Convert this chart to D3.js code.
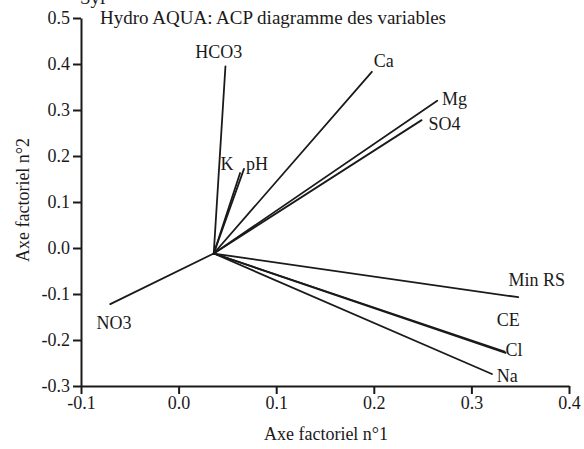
<!DOCTYPE html>
<html>
<head>
<meta charset="utf-8">
<script src="https://cdn.jsdelivr.net/npm/d3@7"></script>
<style>
  html, body { margin: 0; padding: 0; background: #fff; }
  svg { display: block; }
</style>
</head>
<body>
<div id="chart"></div>
<script>
// ---- data ----
const variables = ["HCO3", "Ca", "Mg", "SO4", "K", "pH", "Min RS", "CE", "Cl", "Na", "NO3"];
const endX = [0.048, 0.198, 0.265, 0.249, 0.063, 0.067, 0.348, 0.334, 0.335, 0.321, -0.070];
const endY = [0.395, 0.383, 0.320, 0.278, 0.163, 0.172, -0.107, -0.225, -0.228, -0.274, -0.122];
const labelX = [0.017, 0.2, 0.27, 0.256, 0.043, 0.069, 0.338, 0.326, 0.335, 0.326, -0.084];
const labelY = [0.412, 0.394, 0.311, 0.257, 0.169, 0.169, -0.083, -0.170, -0.235, -0.292, -0.176];
const originX = 0.036, originY = -0.012;
const xTicks = [-0.1, 0.0, 0.1, 0.2, 0.3, 0.4];
const yTicks = [-0.3, -0.2, -0.1, 0.0, 0.1, 0.2, 0.3, 0.4, 0.5];
const title = "Hydro AQUA: ACP diagramme des variables";
const xTitle = "Axe factoriel n°1";
const yTitle = "Axe factoriel n°2";

// ---- chart ----
const W = 584, H = 449;
const FONT = "'Liberation Serif', 'Times New Roman', serif";
const INK = "#1a1a1a";
const svg = d3.select("#chart").append("svg").attr("width", W).attr("height", H)
  .attr("font-family", FONT);

const x = d3.scaleLinear().domain([-0.1, 0.4]).range([81, 569]);
const y = d3.scaleLinear().domain([-0.3, 0.5]).range([386, 18]);

const fmt = v => d3.format(".1f")(v).replace("\u2212", "-");

const yAxis = svg.append("g").attr("transform", `translate(${x(-0.1)},0)`)
  .call(d3.axisLeft(y).tickValues(yTicks).tickFormat(fmt).tickSize(8).tickSizeOuter(0).tickPadding(3));
const xAxis = svg.append("g").attr("transform", `translate(0,${y(-0.3)})`)
  .call(d3.axisBottom(x).tickValues(xTicks).tickFormat(fmt).tickSize(8).tickSizeOuter(0).tickPadding(2));

[xAxis, yAxis].forEach(g => {
  g.attr("font-family", FONT).attr("font-size", 18);
  g.select(".domain").attr("stroke", INK).attr("stroke-width", 2);
  g.selectAll(".tick line").attr("stroke", INK).attr("stroke-width", 2);
  g.selectAll(".tick text").attr("fill", INK);
});

// vectors
svg.append("g").selectAll("line").data(variables).join("line")
  .attr("x1", x(originX)).attr("y1", y(originY))
  .attr("x2", (d, i) => x(endX[i])).attr("y2", (d, i) => y(endY[i]))
  .attr("stroke", INK).attr("stroke-width", 1.8).attr("stroke-linecap", "round");

// labels
svg.append("g").selectAll("text").data(variables).join("text")
  .attr("x", (d, i) => x(labelX[i])).attr("y", (d, i) => y(labelY[i]))
  .attr("font-size", 18).attr("fill", INK).text(d => d);

// title
svg.append("text").attr("x", 100).attr("y", 24).attr("font-size", 19).attr("fill", INK).text(title);
// cropped text at the very top
svg.append("text").attr("x", 80).attr("y", 4).attr("font-size", 19).attr("fill", INK).text("Syl");

// axis titles
svg.append("text").attr("x", 326).attr("y", 440).attr("text-anchor", "middle")
  .attr("font-size", 18).attr("fill", INK).text(xTitle);
svg.append("text").attr("transform", "translate(29,200) rotate(-90)")
  .attr("text-anchor", "middle").attr("font-size", 18).attr("fill", INK).text(yTitle);
</script>
</body>
</html>
